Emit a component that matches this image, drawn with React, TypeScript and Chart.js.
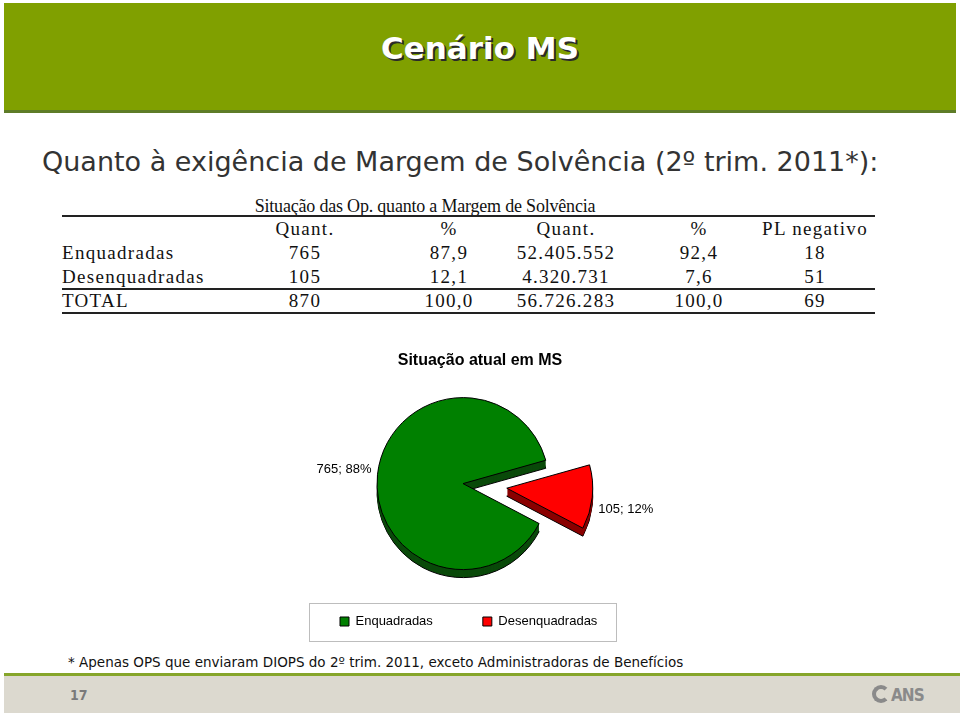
import React, { useEffect, useRef } from 'react';
import { Chart, registerables } from 'chart.js';

Chart.register(...registerables);

// ---- Chart data ----
const categories = ['Enquadradas', 'Desenquadradas'];
const operatorCounts = [765, 105];
const sliceColors = ['#008000', '#FF0000'];
const sideColors = ['#0A4A0A', '#8A0000'];
const chartTitle = 'Situação atual em MS';

// ---- Table data ----
const tableTitle = 'Situação das Op. quanto a Margem de Solvência';
const tableHeaders = ['Quant.', '%', 'Quant.', '%', 'PL negativo'];
const tableRowLabels = ['Enquadradas', 'Desenquadradas', 'TOTAL'];
const qtyOps = ['765', '105', '870'];
const pctOps = ['87,9', '12,1', '100,0'];
const qtyBenef = ['52.405.552', '4.320.731', '56.726.283'];
const pctBenef = ['92,4', '7,6', '100,0'];
const plNegativo = ['18', '51', '69'];

const pageTitle = 'Cenário MS';
const subtitle = 'Quanto à exigência de Margem de Solvência (2º trim. 2011*):';
const footnote = '* Apenas OPS que enviaram DIOPS do 2º trim. 2011, exceto Administradoras de Benefícios';
const pageNumber = '17';

const ARIAL = '"Liberation Sans", Arial, sans-serif';

const pie3dPlugin = {
  id: 'pie3d',
  afterDatasetsUpdate(chart: any, _args: any, opts: any) {
    const meta = chart.getDatasetMeta(0);
    meta.data.forEach((arc: any, i: number) => {
      const mid = (arc.startAngle + arc.endAngle) / 2;
      const e = (opts.explode && opts.explode[i]) || 0;
      arc.x += (opts.shiftX || 0) + Math.cos(mid) * e;
      arc.y += (opts.shiftY || 0) + Math.sin(mid) * e;
    });
  },
  beforeDatasetsDraw(chart: any, _args: any, opts: any) {
    const meta = chart.getDatasetMeta(0);
    const ctx = chart.ctx;
    const depth = opts.depth || 0;
    meta.data.forEach((arc: any, i: number) => {
      const orig = arc.options;
      for (let d = depth; d >= 1; d--) {
        arc.options = Object.assign({}, orig, {
          backgroundColor: opts.sideColors[i],
          borderColor: '#000',
          borderWidth: d === depth ? 1 : 0,
        });
        ctx.save();
        ctx.translate(0, d);
        arc.draw(ctx);
        ctx.restore();
      }
      arc.options = orig;
    });
  },
  afterDatasetsDraw(chart: any, _args: any, opts: any) {
    const meta = chart.getDatasetMeta(0);
    const ctx = chart.ctx;
    const data = chart.data.datasets[0].data as number[];
    const total = data.reduce((a, b) => a + b, 0);
    ctx.save();
    ctx.font = `13px ${ARIAL}`;
    ctx.fillStyle = '#000';
    ctx.textBaseline = 'middle';
    meta.data.forEach((arc: any, i: number) => {
      const mid = (arc.startAngle + arc.endAngle) / 2;
      const r = arc.outerRadius + (opts.labelGap || 8);
      const x = arc.x + Math.cos(mid) * r;
      const y = arc.y + Math.sin(mid) * r + ((opts.labelDy && opts.labelDy[i]) || 0);
      ctx.textAlign = Math.cos(mid) < 0 ? 'right' : 'left';
      const pct = Math.round((data[i] / total) * 100);
      ctx.fillText(`${data[i]}; ${pct}%`, x, y);
    });
    ctx.restore();
  },
  afterDraw(chart: any) {
    const lg = chart.legend;
    if (!lg || !lg.legendHitBoxes || !lg.legendHitBoxes.length) return;
    const hb = lg.legendHitBoxes;
    const first = hb[0];
    const last = hb[hb.length - 1];
    const ctx = chart.ctx;
    ctx.save();
    ctx.strokeStyle = '#BDBDBD';
    ctx.lineWidth = 1;
    const left = first.left - 31;
    const right = last.left + last.width + 19;
    const top = first.top - 12;
    const bottom = first.top + first.height + 13;
    ctx.strokeRect(Math.round(left) + 0.5, Math.round(top) + 0.5, Math.round(right - left), Math.round(bottom - top));
    ctx.restore();
  },
};

function PieChart() {
  const ref = useRef<HTMLCanvasElement>(null);
  useEffect(() => {
    const chart = new Chart(ref.current as HTMLCanvasElement, {
      type: 'pie',
      data: {
        labels: categories,
        datasets: [
          {
            data: operatorCounts,
            backgroundColor: sliceColors,
            borderColor: '#000',
            borderWidth: 1,
            radius: 86,
            clip: false,
          } as any,
        ],
      },
      options: {
        responsive: false,
        animation: false,
        rotation: 117.7,
        events: [],
        layout: { padding: { bottom: 12 } },
        plugins: {
          title: {
            display: true,
            text: chartTitle,
            color: '#000',
            font: { family: ARIAL, size: 16, weight: 'bold' },
            padding: { top: 11, bottom: 32 },
          },
          legend: {
            position: 'bottom',
            align: 'start',
            labels: {
              boxWidth: 9,
              boxHeight: 9,
              padding: 50,
              color: '#000',
              font: { family: ARIAL, size: 13 },
            },
          },
          tooltip: { enabled: false },
          pie3d: {
            depth: 8,
            sideColors,
            explode: [0, 44],
            shiftX: -17,
            shiftY: 0,
            labelGap: 6,
            labelDy: [-5, 12],
          },
        } as any,
      },
      plugins: [pie3dPlugin],
    });
    return () => chart.destroy();
  }, []);
  return (
    <canvas
      ref={ref}
      width={380}
      height={310}
      style={{ position: 'absolute', left: 290, top: 340, width: 380, height: 310 }}
    />
  );
}

const colCenters = [305, 449, 566, 699, 815];
const rowCenters = [253, 277, 301];

const tableFont: React.CSSProperties = {
  fontFamily: '"Liberation Serif", "Times New Roman", serif',
  fontSize: 19,
  letterSpacing: 1.3,
  color: '#111',
  whiteSpace: 'nowrap',
  lineHeight: '20px',
};

function Cell({
  x,
  y,
  text,
  align = 'center',
  extra,
}: {
  x: number;
  y: number;
  text: string;
  align?: 'center' | 'left';
  extra?: React.CSSProperties;
}) {
  const style: React.CSSProperties =
    align === 'center'
      ? { position: 'absolute', left: x, top: y - 10, transform: 'translateX(-50%)', ...tableFont, ...extra }
      : { position: 'absolute', left: x, top: y - 10, ...tableFont, ...extra };
  return <div style={style}>{text}</div>;
}

function Rule({ y }: { y: number }) {
  return <div style={{ position: 'absolute', left: 62, width: 813, top: y, height: 2, background: '#222' }} />;
}

export default function App() {
  const cols = [qtyOps, pctOps, qtyBenef, pctBenef, plNegativo];
  return (
    <div
      style={{
        position: 'fixed',
        left: 0,
        top: 0,
        width: 960,
        height: 716,
        background: '#fff',
        overflow: 'hidden',
      }}
    >
      {/* header */}
      <div
        style={{
          position: 'absolute',
          left: 4,
          top: 3,
          width: 952,
          height: 107,
          background: '#80A000',
          borderBottom: '3px solid #5E7C28',
        }}
      />
      <div
        style={{
          position: 'absolute',
          left: 0,
          width: 960,
          top: 29,
          textAlign: 'center',
          fontFamily: '"DejaVu Sans", Verdana, sans-serif',
          fontWeight: 'bold',
          fontSize: 31,
          lineHeight: '38px',
          color: '#fff',
          textShadow: '2px 2px 0 #2a2a2a',
        }}
      >
        {pageTitle}
      </div>

      {/* subtitle */}
      <div
        style={{
          position: 'absolute',
          left: 42,
          top: 146,
          fontFamily: '"DejaVu Sans", Verdana, sans-serif',
          fontSize: 27,
          lineHeight: '32px',
          color: '#333',
          whiteSpace: 'nowrap',
        }}
      >
        {subtitle}
      </div>

      {/* table */}
      <Cell x={425} y={206} text={tableTitle} extra={{ fontSize: 18, letterSpacing: -0.2 }} />
      <Rule y={215} />
      {tableHeaders.map((h, i) => (
        <Cell key={'h' + i} x={colCenters[i]} y={229} text={h} />
      ))}
      {tableRowLabels.map((lab, r) => (
        <Cell key={'l' + r} x={62} y={rowCenters[r]} text={lab} align="left" />
      ))}
      {cols.map((col, c) =>
        col.map((v, r) => <Cell key={'c' + c + '_' + r} x={colCenters[c]} y={rowCenters[r]} text={v} />)
      )}
      <Rule y={288} />
      <Rule y={312} />

      {/* chart */}
      <PieChart />

      {/* footnote */}
      <div
        style={{
          position: 'absolute',
          left: 68,
          top: 653,
          fontFamily: '"DejaVu Sans", Verdana, sans-serif',
          fontSize: 13.5,
          lineHeight: '18px',
          color: '#111',
          whiteSpace: 'nowrap',
        }}
      >
        {footnote}
      </div>

      {/* footer */}
      <div style={{ position: 'absolute', left: 4, top: 673, width: 956, height: 3, background: '#86A52A' }} />
      <div style={{ position: 'absolute', left: 4, top: 676, width: 956, height: 37, background: '#DCD9CF' }} />
      <div
        style={{
          position: 'absolute',
          left: 70,
          top: 686,
          fontFamily: '"DejaVu Sans Condensed", "DejaVu Sans", sans-serif',
          fontWeight: 'bold',
          fontSize: 14,
          lineHeight: '18px',
          color: '#7a7a7a',
        }}
      >
        {pageNumber}
      </div>
      <div
        style={{
          position: 'absolute',
          left: 872,
          top: 685,
          width: 18,
          height: 18,
          borderRadius: '50%',
          border: '4px solid #8a8a8a',
          borderRightColor: 'transparent',
          boxSizing: 'border-box',
        }}
      />
      <div
        style={{
          position: 'absolute',
          left: 891,
          top: 684,
          fontFamily: '"DejaVu Sans Condensed", "DejaVu Sans", sans-serif',
          fontWeight: 'bold',
          fontSize: 17,
          lineHeight: '22px',
          color: '#8a8a8a',
          letterSpacing: -1,
        }}
      >
        ANS
      </div>
    </div>
  );
}
